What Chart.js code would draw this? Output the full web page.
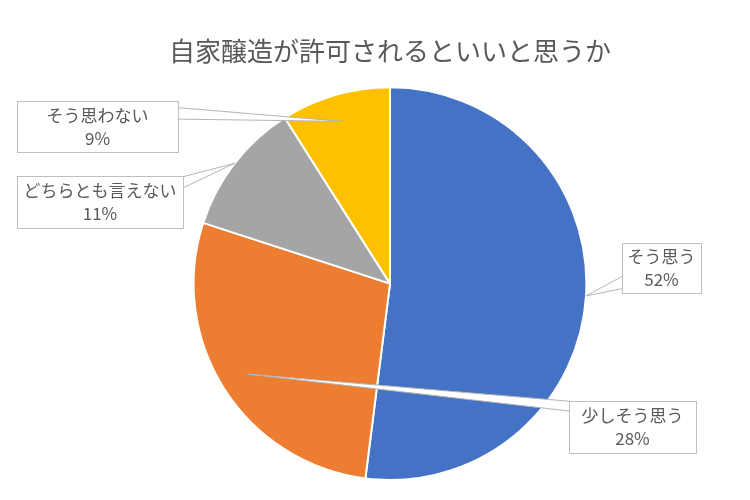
<!DOCTYPE html>
<html>
<head>
<meta charset="utf-8">
<script src="https://cdn.jsdelivr.net/npm/chart.js@4"></script>
<style>
  html, body { margin: 0; padding: 0; background: #fff; }
  #wrap { width: 750px; height: 500px; }
</style>
</head>
<body>
<div id="wrap"><canvas id="graph"></canvas></div>
<script>
// 回答の分類と割合（%）
const answerLabels = ["そう思う", "少しそう思う", "どちらとも言えない", "そう思わない"];
const answerValues = [52, 28, 11, 9];
const sliceColors = ["#4472c4", "#ed7d31", "#a5a5a5", "#ffc000"];

// ラベル枠の配置（左上x, 左上y, 幅, 高さ）と引き出し線の根元
const boxes = [
  { x: 622, y: 243, w: 79, h: 50, ax: 630, ay: 280, hw: 7, tip: 1.0 },
  { x: 569, y: 401, w: 127, h: 52, ax: 578, ay: 407, hw: 5, tip: 0.86 },
  { x: 17, y: 176, w: 166, h: 52, ax: 175, ay: 185, hw: 6, tip: 1.0 },
  { x: 17, y: 101, w: 161, h: 51, ax: 170, ay: 113, hw: 6, tip: 0.86 },
];

const FONT = '"Noto Sans CJK JP", "Noto Sans", sans-serif';

// 引き出し線つきラベル
const calloutPlugin = {
  id: "callout",
  afterDatasetsDraw(chart) {
    const ctx = chart.ctx;
    const arcs = chart.getDatasetMeta(0).data;
    ctx.save();
    arcs.forEach((arc, i) => {
      const b = boxes[i];
      const mid = (arc.startAngle + arc.endAngle) / 2;
      const r = arc.outerRadius * b.tip;
      const tx = arc.x + Math.cos(mid) * r;
      const ty = arc.y + Math.sin(mid) * r;

      // くさび形の線
      const dx = tx - b.ax;
      const dy = ty - b.ay;
      const len = Math.hypot(dx, dy);
      const nx = -dy / len;
      const ny = dx / len;
      ctx.beginPath();
      ctx.moveTo(tx, ty);
      ctx.lineTo(b.ax + nx * b.hw, b.ay + ny * b.hw);
      ctx.lineTo(b.ax - nx * b.hw, b.ay - ny * b.hw);
      ctx.closePath();
      ctx.fillStyle = "#ffffff";
      ctx.fill();
      ctx.strokeStyle = "#b4b4b4";
      ctx.lineWidth = 1;
      ctx.stroke();

      // 枠
      ctx.fillStyle = "#ffffff";
      ctx.fillRect(b.x, b.y, b.w, b.h);
      ctx.strokeStyle = "#bfbfbf";
      ctx.strokeRect(b.x + 0.5, b.y + 0.5, b.w, b.h);

      // 文字
      const cx = b.x + b.w / 2;
      const cy = b.y + b.h / 2;
      ctx.fillStyle = "#595959";
      ctx.font = "17px " + FONT;
      ctx.textAlign = "center";
      ctx.textBaseline = "middle";
      ctx.fillText(answerLabels[i], cx, cy - 11);
      ctx.fillText(answerValues[i] + "%", cx, cy + 12);
    });
    ctx.restore();
  },
};

new Chart(document.getElementById("graph"), {
  type: "pie",
  data: {
    labels: answerLabels,
    datasets: [
      {
        data: answerValues,
        backgroundColor: sliceColors,
        borderColor: "#ffffff",
        borderWidth: 2,
      },
    ],
  },
  options: {
    responsive: true,
    maintainAspectRatio: false,
    animation: false,
    layout: { padding: { top: 0, bottom: 19, left: 30, right: 0 } },
    plugins: {
      legend: { display: false },
      tooltip: { enabled: false },
      title: {
        display: true,
        text: "自家醸造が許可されるといいと思うか",
        color: "#595959",
        font: { family: FONT, size: 26, weight: "normal" },
        padding: { top: 36, bottom: 19 },
      },
    },
  },
  plugins: [calloutPlugin],
});
</script>
</body>
</html>
